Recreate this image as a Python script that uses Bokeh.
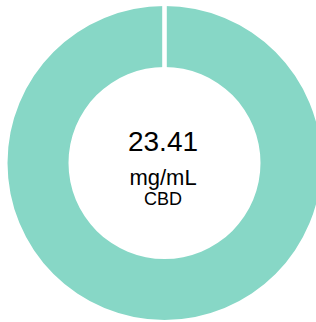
from bokeh.plotting import figure
from bokeh.embed import file_html
from bokeh.resources import INLINE
from bokeh.core.properties import value
import numpy as np

# Data
values = [23.41]
value_label = "23.41"
unit_label = "mg/mL"
compound_label = "CBD"

W, H = 316, 322
p = figure(width=W, height=H, x_range=(0, W), y_range=(0, H),
           output_backend="svg", toolbar_location=None, min_border=0)
p.axis.visible = False
p.grid.visible = False
p.outline_line_color = None
p.background_fill_color = "white"
p.border_fill_color = "white"

cx, cy = 164, H - 162.5
r_in, r_out = 96, 157
color = "#87d7c6"

total = sum(values)
fracs = np.array(values) / total
ends = np.pi / 2 - 2 * np.pi * np.cumsum(fracs)
starts = np.concatenate([[np.pi / 2], ends[:-1]])

p.annulus(x=[cx], y=[cy], inner_radius=r_in, outer_radius=r_out,
          fill_color=color, line_color=None)
# slice boundaries (white separators)
bx0 = cx + (r_in - 2) * np.cos(starts)
by0 = cy + (r_in - 2) * np.sin(starts)
bx1 = cx + (r_out + 2) * np.cos(starts)
by1 = cy + (r_out + 2) * np.sin(starts)
p.segment(x0=bx0, y0=by0, x1=bx1, y1=by1, line_color="white", line_width=4.6)

font = value("Liberation Sans")
tx = cx - 1.5
p.text(x=[tx], y=[H - 140.5], text=[value_label], text_font=font,
       text_font_size="28px", text_align="center", text_baseline="alphabetic",
       text_color="black")
p.text(x=[tx], y=[H - 177], text=[unit_label], text_font=font,
       text_font_size="22px", text_align="center", text_baseline="alphabetic",
       text_color="black")
p.text(x=[tx], y=[H - 198.5], text=[compound_label], text_font=font,
       text_font_size="18px", text_align="center", text_baseline="alphabetic",
       text_color="black")

open("out.html", "w").write(file_html(p, INLINE))
